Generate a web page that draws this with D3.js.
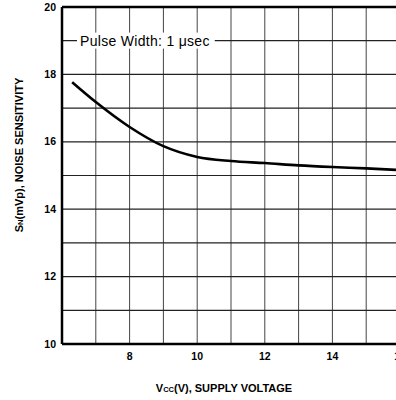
<!DOCTYPE html>
<html>
<head>
<meta charset="utf-8">
<script src="https://cdn.jsdelivr.net/npm/d3@7"></script>
<style>
body { margin: 0; background: #fff; }
text { font-family: "Liberation Sans", Arial, sans-serif; }
</style>
</head>
<body>
<div id="chart"></div>
<script>
// supply voltage (V) vs noise sensitivity (mVp)
const vcc   = [6.3, 7, 8, 9, 10, 11, 12, 13, 14, 15, 16];
const noise = [17.77, 17.18, 16.44, 15.87, 15.55, 15.43, 15.37, 15.3, 15.25, 15.21, 15.16];
const xTicks = [8, 10, 12, 14, 16];
const yTicks = [10, 12, 14, 16, 18, 20];
const xGrid = [7, 8, 9, 10, 11, 12, 13, 14, 15, 16];
const yGrid = [11, 12, 13, 14, 15, 16, 17, 18, 19];

const margin = {top: 7, left: 62};
const width = 338, height = 337;

const svg = d3.select("#chart").append("svg")
    .attr("width", 396)
    .attr("height", 400);

const g = svg.append("g")
    .attr("transform", "translate(" + margin.left + "," + margin.top + ")");

const x = d3.scaleLinear().domain([6, 16]).range([0, width]);
const y = d3.scaleLinear().domain([10, 20]).range([height, 0]);

// grid
g.selectAll(".vgrid")
    .data(xGrid)
    .join("line")
    .attr("x1", d => x(d)).attr("x2", d => x(d))
    .attr("y1", 0).attr("y2", height)
    .attr("stroke", "#444")
    .attr("stroke-width", 1);

g.selectAll(".hgrid")
    .data(yGrid)
    .join("line")
    .attr("x1", 0).attr("x2", width)
    .attr("y1", d => y(d)).attr("y2", d => y(d))
    .attr("stroke", "#222")
    .attr("stroke-width", 1.2);

// frame
g.append("line").attr("x1", 0).attr("x2", width).attr("y1", 0).attr("y2", 0)
    .attr("stroke", "#000").attr("stroke-width", 2.5);
g.append("line").attr("x1", 0).attr("x2", width).attr("y1", height).attr("y2", height)
    .attr("stroke", "#000").attr("stroke-width", 2.5);
g.append("line").attr("x1", 0).attr("x2", 0).attr("y1", 0).attr("y2", height)
    .attr("stroke", "#000").attr("stroke-width", 2.5);

// note label with white box over the 19 grid line
const note = g.append("text")
    .attr("x", 18)
    .attr("y", y(19))
    .attr("dy", "0.35em")
    .style("font-size", "14px")
    .style("letter-spacing", "0.3px")
    .text("Pulse Width: 1 μsec");
const bb = note.node().getBBox();
g.insert("rect", "text")
    .attr("x", bb.x - 3).attr("y", bb.y)
    .attr("width", bb.width + 8).attr("height", bb.height)
    .attr("fill", "#fff");

// curve
const line = d3.line()
    .x((d, i) => x(vcc[i]))
    .y(d => y(d))
    .curve(d3.curveMonotoneX);

g.append("path")
    .attr("d", line(noise))
    .attr("fill", "none")
    .attr("stroke", "#000")
    .attr("stroke-width", 2.6);

// tick labels
g.selectAll(".xt")
    .data(xTicks)
    .join("text")
    .attr("x", d => x(d))
    .attr("y", height + 16)
    .attr("text-anchor", "middle")
    .style("font-size", "10.5px")
    .style("font-weight", "bold")
    .text(d => d);

g.selectAll(".yt")
    .data(yTicks)
    .join("text")
    .attr("x", -6)
    .attr("y", d => y(d))
    .attr("dy", "0.35em")
    .attr("text-anchor", "end")
    .style("font-size", "10.5px")
    .style("font-weight", "bold")
    .text(d => d);

// axis titles
const xt = svg.append("text")
    .attr("x", 224)
    .attr("y", 392)
    .attr("text-anchor", "middle")
    .style("font-size", "11px")
    .style("font-weight", "bold");
xt.append("tspan").text("V");
xt.append("tspan").style("font-size", "7.5px").text("CC");
xt.append("tspan").text("(V), SUPPLY VOLTAGE");

const yt = svg.append("text")
    .attr("transform", "translate(23,155) rotate(-90)")
    .attr("text-anchor", "middle")
    .style("font-size", "11px")
    .style("font-weight", "bold");
yt.append("tspan").text("S");
yt.append("tspan").style("font-size", "7.5px").text("N");
yt.append("tspan").text("(mVp), NOISE SENSITIVITY");
</script>
</body>
</html>
